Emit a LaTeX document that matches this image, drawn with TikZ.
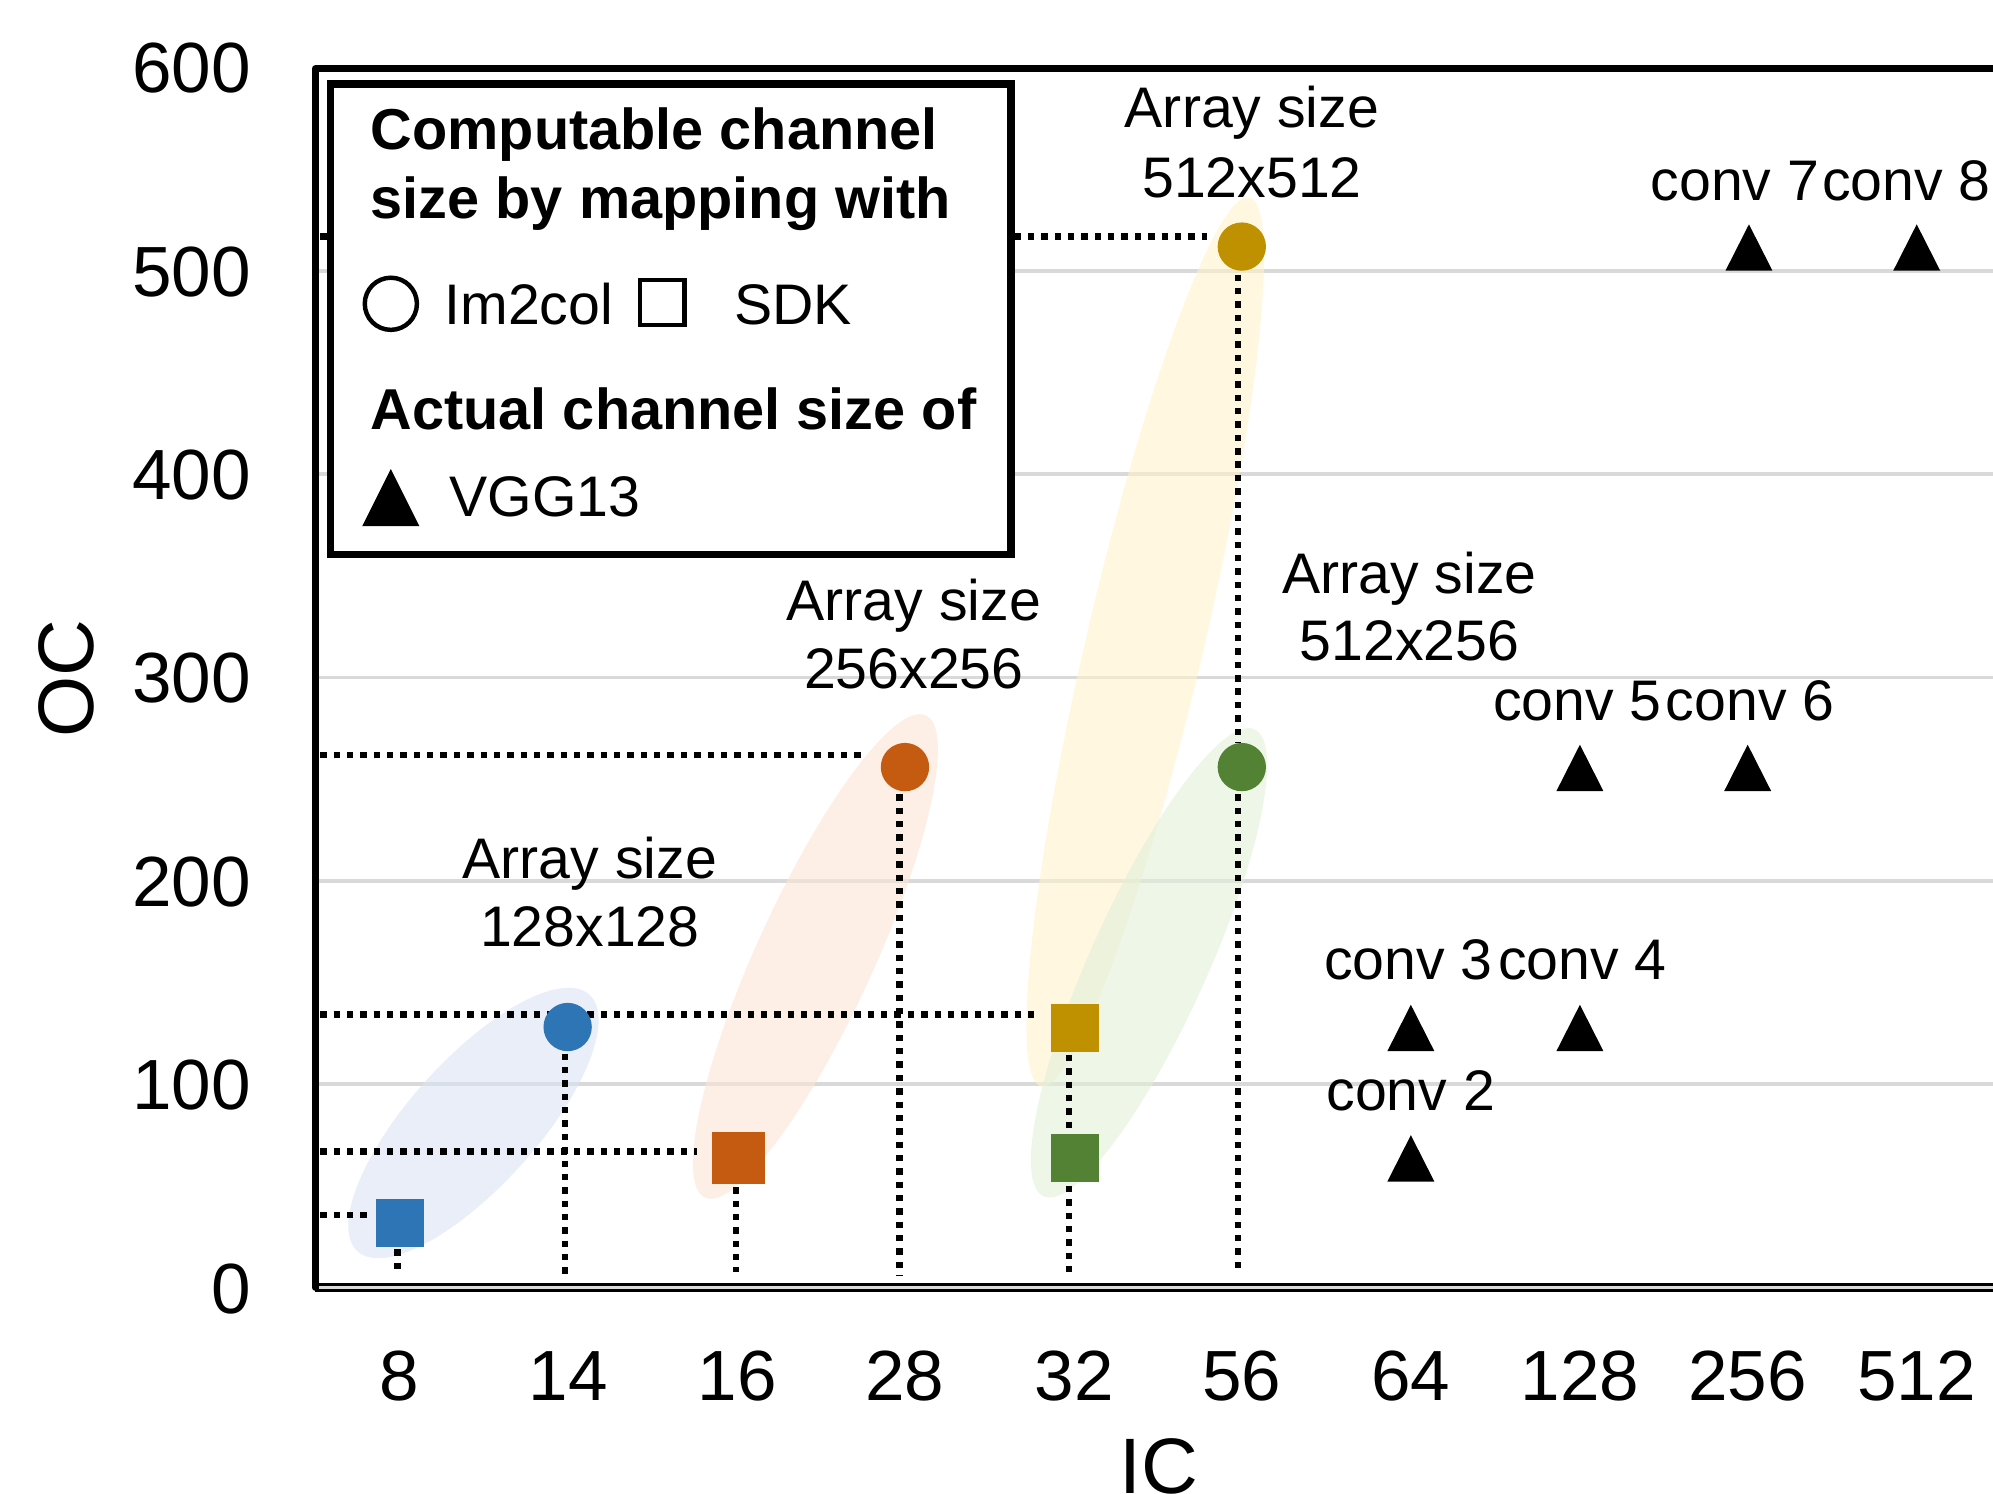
\documentclass[tikz,border=0pt]{standalone}
\usepackage{fontspec}
\setmainfont{Liberation Sans}
\definecolor{cblue}{RGB}{46,117,182}
\definecolor{corange}{RGB}{197,90,17}
\definecolor{cgold}{RGB}{191,144,0}
\definecolor{cgreen}{RGB}{84,130,53}
\definecolor{eblue}{RGB}{218,227,243}
\definecolor{eorange}{RGB}{251,229,214}
\definecolor{egold}{RGB}{255,242,204}
\definecolor{egreen}{RGB}{226,240,217}
\definecolor{gridgray}{RGB}{217,217,217}
\tikzset{
  gridline/.style={draw=gridgray, line width=0.03cm},
  proj/.style={draw=black, line width=0.052cm, dash pattern=on 0.05cm off 0.055cm},
  ellfill/.style={fill opacity=0.6},
  circmark/.style={circle, inner sep=0pt, outer sep=0pt, minimum size=0.38cm},
  sqmark/.style={rectangle, inner sep=0pt, outer sep=0pt, minimum size=0.38cm},
  ann/.style={font=\fontsize{12.8}{15.4}\selectfont, anchor=base, inner sep=0pt},
  legtxt/.style={font=\fontsize{12.8}{15.4}\selectfont, anchor=base west, inner sep=0pt},
  legbold/.style={font=\fontsize{12.9}{15.4}\selectfont\bfseries, anchor=base west, inner sep=0pt},
  ticklab/.style={font=\fontsize{15.9}{19}\selectfont, inner sep=0pt},
  axtitle/.style={font=\fontsize{17.6}{21}\selectfont, inner sep=0pt},
  tri/.pic={\fill[black] (-18.5,19) -- (18.5,19) -- (0,-17.5) -- cycle;}
}
\begin{document}
\begin{tikzpicture}[x=0.01cm, y=-0.01cm]
\useasboundingbox (0,0) rectangle (1568,1175);
\clip (0,0) rectangle (1568,1175);

% grid lines
\foreach \gy in {213,373,533,693,853}{
  \draw[gridline] (250,\gy) -- (1570,\gy);
}

% ellipses
\fill[eblue, ellfill, rotate around={47.9:(372.5,883.5)}] (372.5,883.5) ellipse [x radius=1.36cm, y radius=0.50cm];
\fill[eorange, ellfill, rotate around={65.4:(641.5,752.5)}] (641.5,752.5) ellipse [x radius=2.085cm, y radius=0.46cm];
\fill[egold, ellfill, rotate around={76.8:(901,505)}] (901,505) ellipse [x radius=3.59cm, y radius=0.46cm];
\fill[egreen, ellfill, rotate around={65.7:(904,757.5)}] (904,757.5) ellipse [x radius=2.014cm, y radius=0.46cm];

% projection lines (horizontal)
\draw[proj] (252,956) -- (289,956);
\draw[proj] (252,906) -- (548,906);
\draw[proj] (252,798) -- (815,798);
\draw[proj] (252,594) -- (682,594);
\draw[proj] (252,186) -- (950,186);
% projection lines (vertical)
\draw[proj] (312.5,983) -- (312.5,1001);
\draw[proj] (444.5,829) -- (444.5,1004);
\draw[proj] (579,934) -- (579,1001);
\draw[proj] (707.5,625) -- (707.5,1004);
\draw[proj] (841,830) -- (841,891);
\draw[proj] (841,933) -- (841,1001);
\draw[proj] (974,216) -- (974,584);
\draw[proj] (974,625) -- (974,1001);

% markers
\node[sqmark, fill=cblue] (b8) at (314.5,962) {};
\node[circmark, fill=cblue] (b14) at (446.6,808) {};
\node[sqmark, fill=corange, minimum size=0.41cm] (o16) at (581,911) {};
\node[circmark, fill=corange] (o28) at (712,603.5) {};
\node[sqmark, fill=cgold] (g32) at (846,809) {};
\node[circmark, fill=cgold] (g56) at (977,194) {};
\node[sqmark, fill=cgreen] (n32) at (846,911) {};
\node[circmark, fill=cgreen] (n56) at (977,603.5) {};

% VGG13 triangles
\pic (t2) at (1110,910.6) {tri};
\pic (t3) at (1110,808) {tri};
\pic (t4) at (1243,808) {tri};
\pic (t5) at (1243,603.4) {tri};
\pic (t6) at (1375,603.4) {tri};
\pic (t7) at (1376,194) {tri};
\pic (t8) at (1508,194) {tri};
\node[ann] (l2) at (1110,873.6) {conv 2};
\node[ann] (l3) at (1108,771) {conv 3};
\node[ann] (l4) at (1245,771) {conv 4};
\node[ann] (l5) at (1241,567) {conv 5};
\node[ann] (l6) at (1377,567) {conv 6};
\node[ann] (l7) at (1365,158) {conv 7};
\node[ann] (l8) at (1500,158) {conv 8};

% axes
\draw[line width=0.065cm] (248,1013) -- (1572,1013);
\draw[gridgray, line width=0.022cm] (251,1013) -- (1572,1013);
\draw[line width=0.052cm, line join=round, line cap=round] (248,1013) -- (248,54) -- (1572,54);

% legend
\node[draw, line width=0.058cm, fill=white, inner sep=0pt, outer sep=0pt,
      minimum width=5.35cm, minimum height=3.70cm, anchor=north west] (legend) at (260,66) {};
\node[legbold] (lt1) at (291,118) {Computable channel};
\node[legbold] (lt2) at (291,172) {size by mapping with};
\node[circle, draw, line width=0.035cm, minimum size=0.41cm, inner sep=0pt] (lcirc) at (307.5,239) {};
\node[legtxt] (lim) at (349,255) {Im2col};
\node[rectangle, draw, line width=0.035cm, minimum size=0.35cm, inner sep=0pt] (lsq) at (521,238) {};
\node[legtxt] (lsdk) at (577,255) {SDK};
\node[legbold] (lt3) at (291,338) {Actual channel size of};
\fill[black] (285,414) -- (330,414) -- (307.5,369) -- cycle;
\node[legtxt] (lvgg) at (353,406) {VGG13};

% array size annotations
\node[ann] (a1) at (464,691) {Array size};
\node[ann] (a1b) at (464,745) {128x128};
\node[ann] (a2) at (719,488) {Array size};
\node[ann] (a2b) at (719,542) {256x256};
\node[ann] (a3) at (985,100) {Array size};
\node[ann] (a3b) at (985,155) {512x512};
\node[ann] (a4) at (1109,467) {Array size};
\node[ann] (a4b) at (1109,520) {512x256};

% y tick labels
\foreach \v/\yy in {600/73,500/233,400/393,300/553,200/713,100/873,0/1033}{
  \node[ticklab, anchor=base east] at (198,\yy) {\v};
}
% x tick labels
\foreach \v/\xx in {8/314,14/447,16/580,28/712,32/845,56/977,64/1110,128/1243,256/1375,512/1508}{
  \node[ticklab, anchor=base] at (\xx,1102) {\v};
}
\node[axtitle, anchor=base] (xt) at (911.5,1175) {IC};
\node[axtitle, rotate=90, anchor=center] (yt) at (52.5,534) {OC};
\end{tikzpicture}
\end{document}
